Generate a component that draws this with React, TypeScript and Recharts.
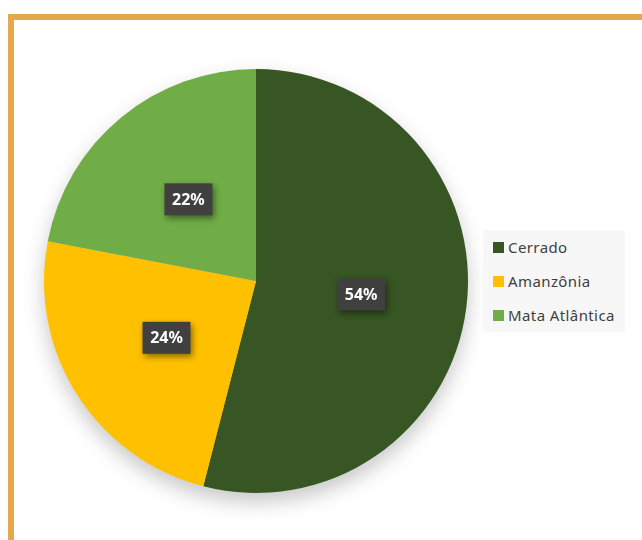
import { PieChart, Pie, Cell, Legend } from 'recharts';

const biomes = ['Cerrado', 'Amanzônia', 'Mata Atlântica'];
const shares = [54, 24, 22];
const colors = ['#375623', '#FFC000', '#70AD47'];

const data = biomes.map((name, i) => ({ name, value: shares[i] }));

const RAD = Math.PI / 180;

function renderLabel(props: any) {
    const { cx, cy, midAngle, outerRadius, value } = props;
    const r = outerRadius * 0.5;
    const x = cx + r * Math.cos(-midAngle * RAD);
    const y = cy + r * Math.sin(-midAngle * RAD);
    return (
        <g style={{ filter: 'drop-shadow(2px 3px 3px rgba(0,0,0,0.45))' }}>
            <rect x={x - 24} y={y - 16} width={48} height={32} fill="#404040" />
            <text
                x={x}
                y={y + 1}
                textAnchor="middle"
                dominantBaseline="middle"
                fill="#ffffff"
                fontFamily="'Noto Sans', sans-serif"
                fontWeight={700}
                fontSize={16}
            >
                {`${value}%`}
            </text>
        </g>
    );
}

function LegendBox() {
    return (
        <div
            style={{
                background: '#f7f7f7',
                width: 142,
                height: 102,
                boxSizing: 'border-box',
                paddingLeft: 10,
                fontFamily: "'Noto Sans', sans-serif",
                fontSize: 15,
                letterSpacing: 0.4,
                color: '#404040',
            }}
        >
            {biomes.map((name, i) => (
                <div key={name} style={{ display: 'flex', alignItems: 'center', height: 34 }}>
                    <span style={{ width: 11, height: 11, background: colors[i], marginRight: 4, display: 'inline-block' }} />
                    <span>{name}</span>
                </div>
            ))}
        </div>
    );
}

export default function App() {
    return (
        <div style={{ position: 'absolute', left: 0, top: 0, width: 642, height: 540, background: '#fff', overflow: 'hidden' }}>
            <style>{`.recharts-pie { filter: drop-shadow(0px 9px 10px rgba(0,0,0,0.22)); }`}</style>
            <div
                style={{
                    position: 'absolute',
                    left: 8,
                    top: 14,
                    right: 0,
                    bottom: 0,
                    borderLeft: '6px solid #E5A84F',
                    borderTop: '6px solid #E5A84F',
                }}
            />
            <div style={{ position: 'absolute', left: 0, top: 0 }}>
                <PieChart width={642} height={540} margin={{ top: 0, right: 0, bottom: 0, left: 0 }}>
                    <Pie
                        data={data}
                        dataKey="value"
                        nameKey="name"
                        cx={256}
                        cy={281}
                        outerRadius={212}
                        startAngle={90}
                        endAngle={-270}
                        stroke="none"
                        labelLine={false}
                        label={renderLabel}
                        isAnimationActive={false}
                    >
                        {data.map((d, i) => (
                            <Cell key={d.name} fill={colors[i]} />
                        ))}
                    </Pie>
                    <Legend
                        content={() => <LegendBox />}
                        wrapperStyle={{ position: 'absolute', left: 483, top: 230, width: 142, bottom: 'auto', right: 'auto' }}
                    />
                </PieChart>
            </div>
        </div>
    );
}
